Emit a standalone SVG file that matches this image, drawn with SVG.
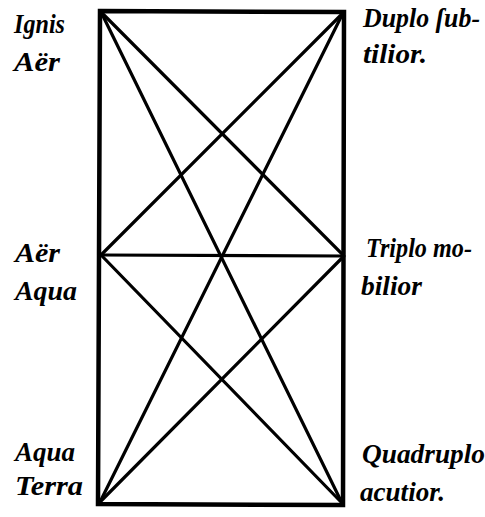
<svg xmlns="http://www.w3.org/2000/svg" width="485" height="517" viewBox="0 0 485 517">
<style>
text{font-family:"Liberation Serif","DejaVu Serif",serif;font-style:italic;font-weight:bold;font-size:27px;fill:#000}
.frame{fill:none;stroke:#000;stroke-width:4.5;stroke-linejoin:miter}
.ln{stroke:#000;stroke-width:3.2;stroke-linecap:round;fill:none}
</style>
<rect width="485" height="517" fill="#fff"/>
<g id="connectors">
<path class="frame" d="M100,11 L344,12 L343,505 L98,504 Z"/>
<line class="ln" x1="101" y1="255" x2="344" y2="256"/>
<line class="ln" x1="101" y1="12" x2="343" y2="255"/>
<line class="ln" x1="343" y1="13" x2="102" y2="254"/>
<line class="ln" x1="101" y1="12" x2="342" y2="503"/>
<line class="ln" x1="343" y1="13" x2="100" y2="502"/>
<line class="ln" x1="102" y1="256" x2="342" y2="503"/>
<line class="ln" x1="343" y1="257" x2="100" y2="502"/>
</g>
<g id="left-top">
<text x="14" y="33" textLength="51" lengthAdjust="spacingAndGlyphs">Ignis</text>
<text x="14" y="71" textLength="46" lengthAdjust="spacingAndGlyphs">Aër</text>
</g>
<g id="left-middle">
<text x="15" y="262" textLength="45" lengthAdjust="spacingAndGlyphs">Aër</text>
<text x="15" y="300" textLength="62" lengthAdjust="spacingAndGlyphs">Aqua</text>
</g>
<g id="left-bottom">
<text x="15" y="461" textLength="60" lengthAdjust="spacingAndGlyphs">Aqua</text>
<text x="15" y="495" textLength="68" lengthAdjust="spacingAndGlyphs">Terra</text>
</g>
<g id="right-top">
<text x="363" y="27" textLength="117" lengthAdjust="spacingAndGlyphs">Duplo ſub-</text>
<text x="363" y="63" textLength="64" lengthAdjust="spacingAndGlyphs">tilior.</text>
</g>
<g id="right-middle">
<text x="366" y="257" textLength="106" lengthAdjust="spacingAndGlyphs">Triplo mo-</text>
<text x="361" y="295" textLength="61" lengthAdjust="spacingAndGlyphs">bilior</text>
</g>
<g id="right-bottom">
<text x="362" y="463" textLength="123" lengthAdjust="spacingAndGlyphs">Quadruplo</text>
<text x="360" y="501" textLength="85" lengthAdjust="spacingAndGlyphs">acutior.</text>
</g>
</svg>
